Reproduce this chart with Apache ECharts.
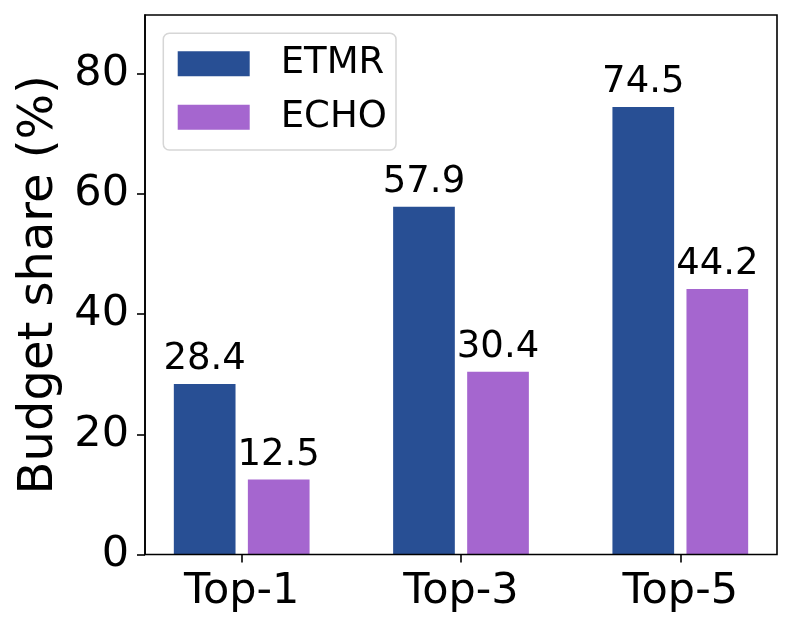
<!DOCTYPE html>
<html><head><meta charset="utf-8">
<script src="https://cdn.jsdelivr.net/npm/echarts@6/dist/echarts.min.js"></script>
<style>html,body{margin:0;padding:0;background:#fff}#c{width:793px;height:631px}</style>
</head><body><div id="c"></div>
<script>
const categories = ['Top-1', 'Top-3', 'Top-5'];
const etmr = [28.4, 57.9, 74.5];
const echo = [12.5, 30.4, 44.2];
const yTicks = [0, 20, 40, 60, 80];
const yTitle = 'Budget share (%)';

const FONT = '"DejaVu Sans", sans-serif';
const YMAX = 89.8;
const chart = echarts.init(document.getElementById('c'), null, {renderer: 'canvas'});
chart.setOption({
  animation: false,
  backgroundColor: '#fff',
  textStyle: {fontFamily: FONT},
  graphic: [
    {type: 'rect', z: 0, shape: {x: 163.3, y: 33.3, width: 232.7, height: 116.7, r: 6},
     style: {fill: '#fff', stroke: '#d6d6d6', lineWidth: 1.5}}
  ],
  grid: [
    {left: 145, right: 16, top: 15, bottom: 76.5, show: true, borderColor: '#000', borderWidth: 1.6, backgroundColor: 'transparent', z: 5},
    {left: 132.05, right: 3.05, top: 15, bottom: 76.5, show: false}
  ],
  legend: {
    left: 177.7, top: 45.3,
    orient: 'vertical',
    icon: 'rect',
    itemWidth: 72, itemHeight: 25, itemGap: 16.5,
    padding: 0,
    backgroundColor: 'transparent',
    textStyle: {fontFamily: FONT, fontSize: 37, color: '#000', padding: [0, 0, 0, 26]},
    itemStyle: {borderWidth: 0},
    data: ['ETMR', 'ECHO']
  },
  xAxis: [
    {type: 'category', gridIndex: 0, data: categories, show: false},
    {type: 'category', gridIndex: 1, data: categories,
     axisLine: {show: false},
     axisTick: {show: true, alignWithLabel: true, length: 8, lineStyle: {color: '#000', width: 1.6}},
     axisLabel: {fontFamily: FONT, fontSize: 43, color: '#000', margin: 16},
     splitLine: {show: false}}
  ],
  yAxis: [
    {type: 'value', gridIndex: 0, min: 0, max: YMAX, interval: 20,
     axisLine: {show: true, lineStyle: {color: '#000', width: 1.6}},
     axisTick: {show: true, length: 8, lineStyle: {color: '#000', width: 1.6}},
     axisLabel: {fontFamily: FONT, fontSize: 43, color: '#000', margin: 16,
       formatter: v => yTicks.includes(v) ? String(v) : '', showMaxLabel: false},
     splitLine: {show: false},
     name: yTitle, nameLocation: 'middle', nameGap: 80, nameRotate: 90,
     nameTextStyle: {fontFamily: FONT, fontSize: 48, color: '#000'}},
    {type: 'value', gridIndex: 1, min: 0, max: YMAX, show: false, splitLine: {show: false}}
  ],
  series: [
    {name: 'ETMR', type: 'bar', xAxisIndex: 1, yAxisIndex: 1, data: etmr,
     barWidth: 61.7, barGap: '20%',
     itemStyle: {color: '#284f94'},
     label: {show: true, position: 'top', distance: 6, fontFamily: FONT, fontSize: 37, color: '#000'}},
    {name: 'ECHO', type: 'bar', xAxisIndex: 1, yAxisIndex: 1, data: echo,
     barWidth: 61.7, barGap: '20%',
     itemStyle: {color: '#a566cf'},
     label: {show: true, position: 'top', distance: 6, fontFamily: FONT, fontSize: 37, color: '#000'}}
  ]
});
</script></body></html>
